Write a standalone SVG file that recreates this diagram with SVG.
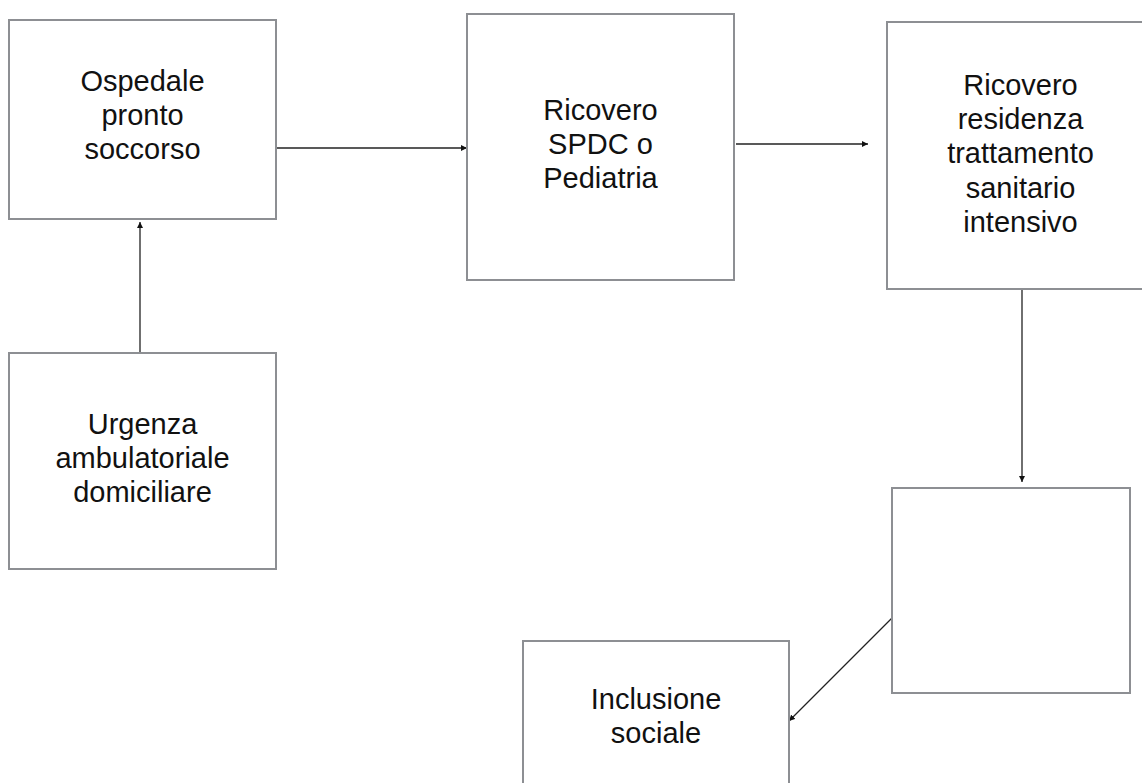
<svg xmlns="http://www.w3.org/2000/svg" width="1142" height="783" viewBox="0 0 1142 783">
<style>
.box{fill:#fff;stroke:#8d8f93;stroke-width:2}
.lbl{font-family:"Liberation Sans",Arial,Helvetica,sans-serif;font-size:29px;fill:#111;text-anchor:middle}
.edge{stroke:#222;stroke-width:1.3;fill:none;marker-end:url(#ah)}
</style>
<defs>
<marker id="ah" viewBox="0 0 10 10" refX="10" refY="5" markerWidth="6" markerHeight="6" markerUnits="userSpaceOnUse" orient="auto">
<path d="M0,0 L10,5 L0,10 z" fill="#111"/>
</marker>
</defs>
<rect width="1142" height="783" fill="#fff"/>
<g id="connectors">
<line class="edge" x1="277" y1="148" x2="467" y2="148"/>
<line class="edge" x1="736" y1="144" x2="868" y2="144"/>
<line class="edge" x1="140" y1="357" x2="140" y2="222"/>
<line class="edge" x1="1022" y1="290" x2="1022" y2="482"/>
<line class="edge" x1="892" y1="618" x2="789" y2="721"/>
</g>
<g id="ospedale">
<rect class="box" x="9" y="20" width="267" height="199"/>
<text class="lbl" x="142.5" y="90.5">Ospedale</text>
<text class="lbl" x="142.5" y="124.5">pronto</text>
<text class="lbl" x="142.5" y="158.5">soccorso</text>
</g>
<g id="spdc">
<rect class="box" x="467" y="14" width="267" height="266"/>
<text class="lbl" x="600.5" y="119.5">Ricovero</text>
<text class="lbl" x="600.5" y="153.5">SPDC o</text>
<text class="lbl" x="600.5" y="187.5">Pediatria</text>
</g>
<g id="residenza">
<rect class="box" x="887" y="22" width="267" height="267"/>
<text class="lbl" x="1020.5" y="94.5">Ricovero</text>
<text class="lbl" x="1020.5" y="128.8">residenza</text>
<text class="lbl" x="1020.5" y="163.2">trattamento</text>
<text class="lbl" x="1020.5" y="197.5">sanitario</text>
<text class="lbl" x="1020.5" y="231.8">intensivo</text>
</g>
<g id="urgenza">
<rect class="box" x="9" y="353" width="267" height="216"/>
<text class="lbl" x="142.5" y="434.3">Urgenza</text>
<text class="lbl" x="142.5" y="468.3">ambulatoriale</text>
<text class="lbl" x="142.5" y="502.3">domiciliare</text>
</g>
<g id="vuoto">
<rect class="box" x="892" y="488" width="238" height="205"/>
</g>
<g id="inclusione">
<rect class="box" x="523" y="641" width="266" height="160"/>
<text class="lbl" x="656" y="709.3">Inclusione</text>
<text class="lbl" x="656" y="742.7">sociale</text>
</g>
</svg>
